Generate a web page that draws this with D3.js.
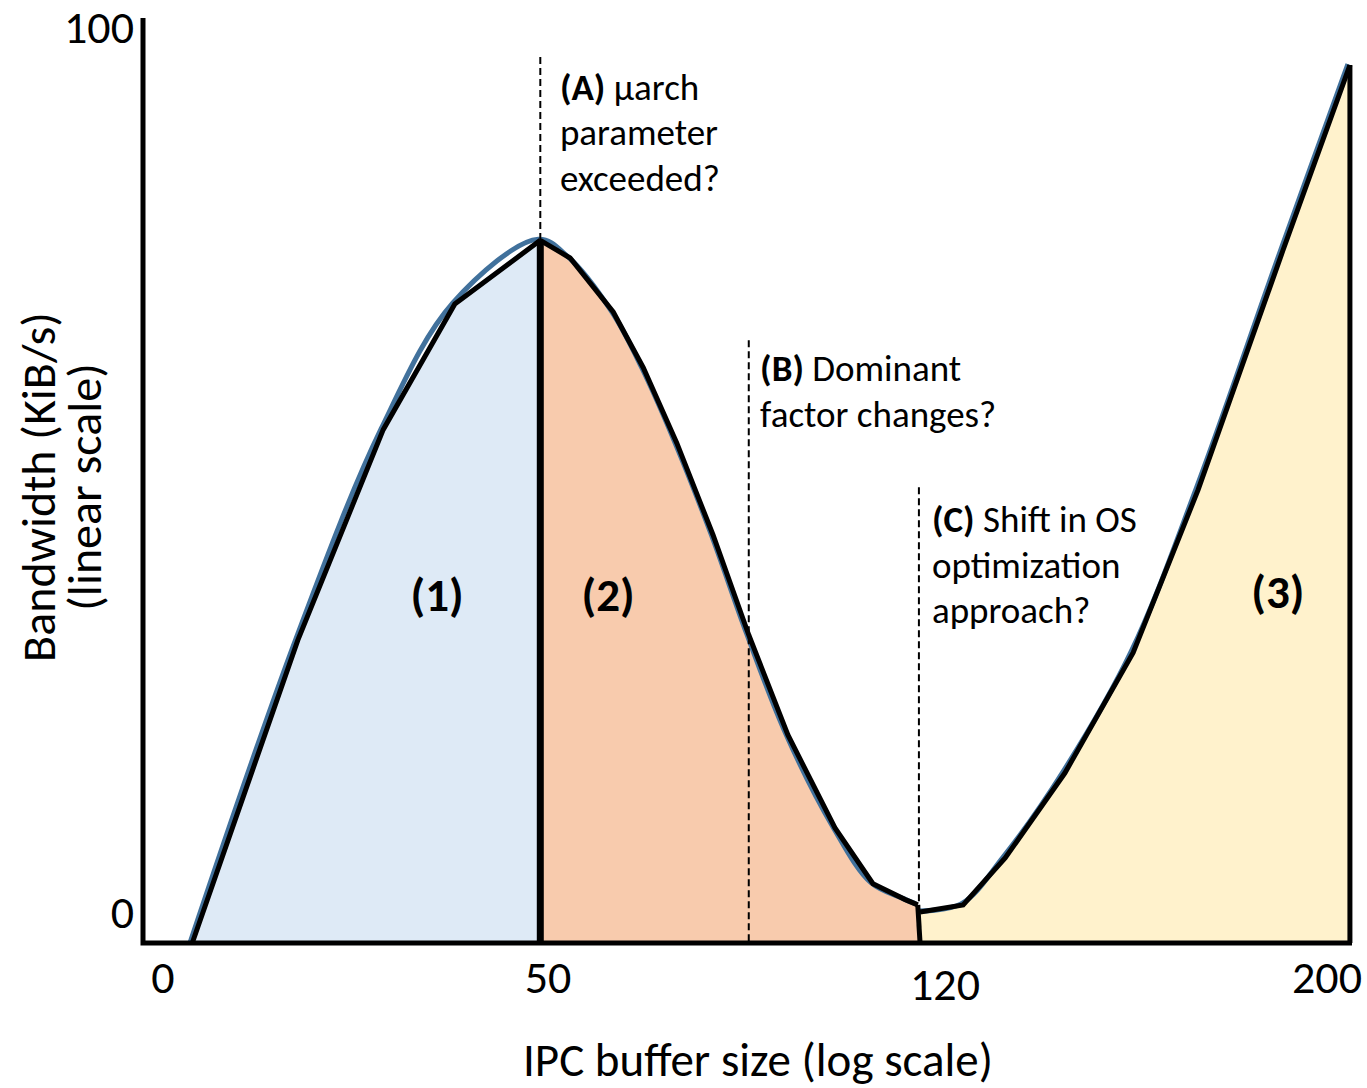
<!DOCTYPE html>
<html>
<head>
<meta charset="utf-8">
<script src="https://cdn.jsdelivr.net/npm/d3@7/dist/d3.min.js"></script>
<style>
  html, body { margin: 0; padding: 0; background: #fff; }
  svg { display: block; }
  text { font-family: Carlito, Calibri, Lato, "Open Sans", sans-serif; fill: #000; }
</style>
</head>
<body>
<svg id="chart" width="1367" height="1088"></svg>
<script>
// ---------- data ----------
const xTickValues = [0, 50, 120, 200];
const yTickValues = [0, 100];

// region (1): rising part up to the peak
const region1Size = [3.8, 17.5, 28.6, 37.9, 49.0];
const region1Bw   = [-3.5, 30.7, 54.5, 68.7, 75.9];
// region (2): falling part down to the trough
const region2Size = [49.0, 53.9, 61.5, 66.8, 72.7, 79.1, 85.4, 92.3, 100.6, 107.3, 113.0, 115.2];
const region2Bw   = [75.9, 73.9, 67.8, 61.5, 53.0, 42.6, 31.3, 20.0, 9.5, 3.2, 1.4, 0.8];
// region (3): rising again
const region3Size = [115.6, 123.8, 132.6, 145.1, 159.4, 173.0, 190.8, 204.8];
const region3Bw   = [0.0, 0.8, 6.1, 15.7, 29.3, 47.7, 74.8, 95.7];

const regionLabels = ["(1)", "(2)", "(3)"];
const regionLabelSize = [35.6, 60.6, 189.7];
const regionLabelBw   = [34.0, 34.0, 34.3];

const markerSize = [49.0, 85.4, 115.4];           // A, B, C dashed lines
const markerTop  = [96.6, 64.6, 48.0];
const markerBottom = [75.9, -3.5, 0.8];
const annotationLines = [
  [["(A)", " \u00b5arch"], ["", "parameter"], ["", "exceeded?"]],
  [["(B)", " Dominant"], ["", "factor changes?"]],
  [["(C)", " Shift in OS"], ["", "optimization"], ["", "approach?"]]
];
const annotationSize = [52.1, 87.4, 117.7];
const annotationTopBw = [91.8, 60.0, 42.9];

const xTitle = "IPC buffer size (log scale)";
const yTitleLines = ["Bandwidth (KiB/s)", "(linear scale)"];

// ---------- layout ----------
const svg = d3.select("#chart");
const frame = { left: 143, right: 1352, top: 18, bottom: 943 };

// piecewise (polylinear) scale: the tick labels are not evenly spaced
const x = d3.scaleLinear().domain(xTickValues).range([163, 548, 945, 1327]);
const y = d3.scaleLinear().domain([0, 100]).range([912, 27]);

const colors = { r1: "#DEEAF6", r2: "#F8CBAD", r3: "#FFF2CC", blue: "#41719C" };

function pts(sx, sy) { return sx.map((v, i) => [v, sy[i]]); }
const r1 = pts(region1Size, region1Bw);
const r2 = pts(region2Size, region2Bw);
const r3 = pts(region3Size, region3Bw);

const area = d3.area().x(d => x(d[0])).y0(frame.bottom).y1(d => y(d[1]));
const line = d3.line().x(d => x(d[0])).y(d => y(d[1]));
const smooth = d3.line().x(d => x(d[0])).y(d => y(d[1])).curve(d3.curveCatmullRom.alpha(0.5));

// fills
svg.append("path").attr("d", area(r1)).attr("fill", colors.r1);
svg.append("path").attr("d", area(r2.concat([[r3[0][0] - 0.2, r2[r2.length-1][1]]]))).attr("fill", colors.r2);
svg.append("path").attr("d", area(r3)).attr("fill", colors.r3);

// smooth blue curve underneath
const gBlue = svg.append("g").attr("transform", "translate(-2,-1)");
[r1.concat(r2.slice(1)), r3].forEach(seg => {
  gBlue.append("path").attr("d", smooth(seg)).attr("fill", "none")
    .attr("stroke", colors.blue).attr("stroke-width", 5);
});

// dashed markers
markerSize.forEach((s, i) => {
  svg.append("line")
    .attr("x1", x(s)).attr("x2", x(s))
    .attr("y1", y(markerTop[i])).attr("y2", i === 1 ? frame.bottom : y(markerBottom[i]))
    .attr("stroke", "#000").attr("stroke-width", 2).attr("stroke-dasharray", "7,4");
});

// black polyline outline
[r1, r2, r3].forEach(seg => {
  svg.append("path").attr("d", line(seg)).attr("fill", "none")
    .attr("stroke", "#000").attr("stroke-width", 5).attr("stroke-linejoin", "miter");
});

// region boundaries (solid)
svg.append("line").attr("x1", x(region1Size[region1Size.length-1])).attr("x2", x(region1Size[region1Size.length-1]))
  .attr("y1", y(region1Bw[region1Bw.length-1])).attr("y2", frame.bottom)
  .attr("stroke", "#000").attr("stroke-width", 7);
svg.append("line").attr("x1", x(region2Size[region2Size.length-1])).attr("x2", x(region3Size[0]))
  .attr("y1", y(region2Bw[region2Bw.length-1])).attr("y2", frame.bottom)
  .attr("stroke", "#000").attr("stroke-width", 5);
// right edge
svg.append("line").attr("x1", x(region3Size[region3Size.length-1])).attr("x2", x(region3Size[region3Size.length-1]))
  .attr("y1", y(region3Bw[region3Bw.length-1])).attr("y2", frame.bottom)
  .attr("stroke", "#000").attr("stroke-width", 5);

// axes lines
svg.append("path")
  .attr("d", `M${frame.left},${frame.top}V${frame.bottom}H${frame.right}`)
  .attr("fill", "none").attr("stroke", "#000").attr("stroke-width", 5)
  .attr("stroke-linejoin", "miter").attr("stroke-linecap", "butt");

// tick labels
svg.append("g").selectAll("text").data(xTickValues).join("text")
  .attr("x", d => x(d)).attr("y", d => d === 120 ? 1000 : 993)
  .attr("text-anchor", "middle").attr("font-size", 46).text(d => d);
svg.append("g").selectAll("text").data(yTickValues).join("text")
  .attr("x", 134).attr("y", d => y(d) + 16)
  .attr("text-anchor", "end").attr("font-size", 46).text(d => d);

// axis titles
svg.append("text").attr("x", 758).attr("y", 1076).attr("text-anchor", "middle")
  .attr("font-size", 47).text(xTitle);
yTitleLines.forEach((t, i) => {
  svg.append("text")
    .attr("transform", `translate(${55 + i * 46},487) rotate(-90)`)
    .attr("text-anchor", "middle").attr("font-size", 48).text(t);
});

// annotations
annotationLines.forEach((lines, i) => {
  const tx = x(annotationSize[i]);
  const ty = y(annotationTopBw[i]);
  lines.forEach((parts, j) => {
    const t = svg.append("text").attr("x", tx).attr("y", ty + j * 45.5).attr("font-size", 37);
    if (parts[0]) t.append("tspan").attr("font-weight", "bold").text(parts[0]);
    t.append("tspan").text(parts[1]);
  });
});

// region labels
svg.append("g").selectAll("text").data(regionLabels).join("text")
  .attr("x", (d, i) => x(regionLabelSize[i]))
  .attr("y", (d, i) => y(regionLabelBw[i]))
  .attr("text-anchor", "middle").attr("font-size", 47).attr("font-weight", "bold")
  .text(d => d);
</script>
</body>
</html>
